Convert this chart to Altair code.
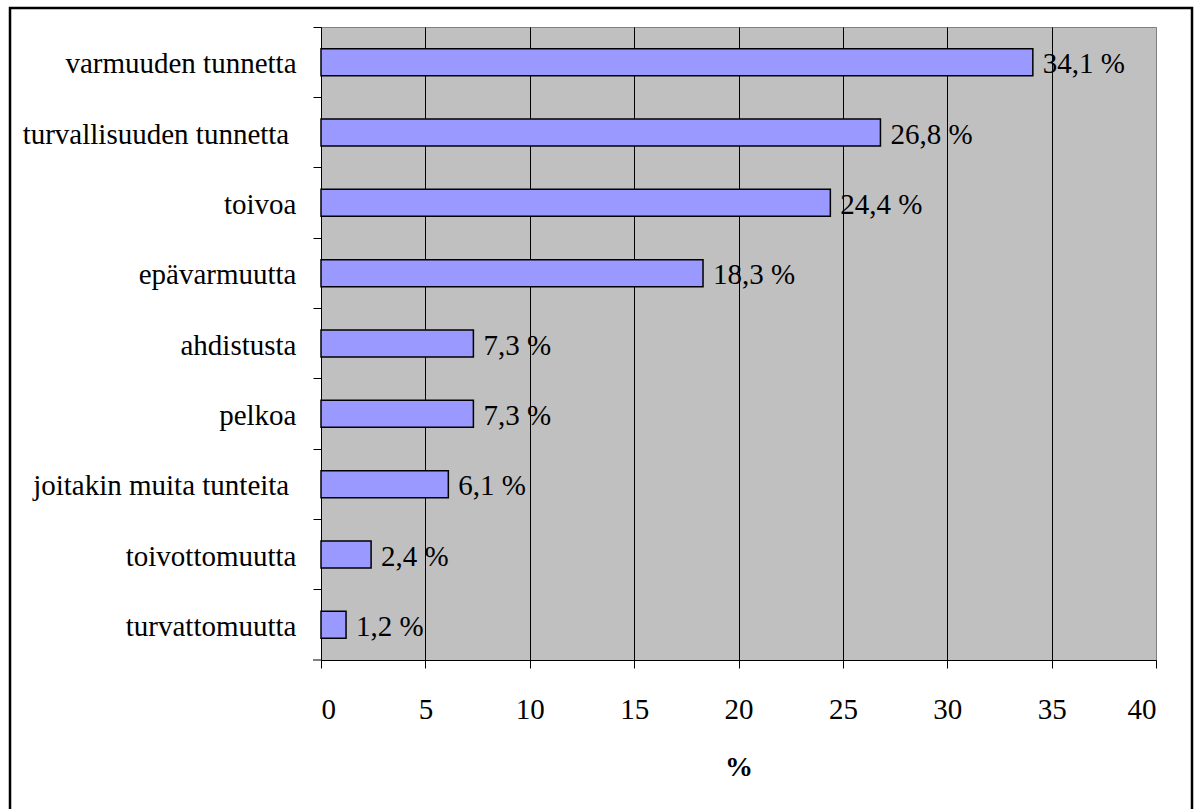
import altair as alt
import pandas as pd

categories = [
    "varmuuden tunnetta",
    "turvallisuuden tunnetta \u200b",
    "toivoa",
    "epävarmuutta",
    "ahdistusta",
    "pelkoa",
    "joitakin muita tunteita \u200b",
    "toivottomuutta",
    "turvattomuutta",
]
values = [34.1, 26.8, 24.4, 18.3, 7.3, 7.3, 6.1, 2.4, 1.2]
x_ticks = [0, 5, 10, 15, 20, 25, 30, 35, 40]

df = pd.DataFrame({"cat": categories, "val": values})

W, H = 835, 633
FONT = "Liberation Serif"
FS = 29

y_enc = alt.Y(
    "cat:N",
    sort=categories,
    title=None,
    scale=alt.Scale(paddingInner=0.616, paddingOuter=0.308),
    axis=alt.Axis(
        domainColor="black",
        domainWidth=1,
        tickColor="black",
        tickSize=8,
        bandPosition=-0.8,
        labelPadding=17,
        labelOffset=2,
        labelFont=FONT,
        labelFontSize=FS,
        labelColor="black",
        labelLimit=400,
        grid=False,
    ),
)

x_enc = alt.X(
    "val:Q",
    title="%",
    scale=alt.Scale(domain=[0, 40], nice=False),
    axis=alt.Axis(
        values=x_ticks,
        domainColor="black",
        domainWidth=1,
        tickColor="black",
        tickSize=8,
        labelPadding=27,
        labelFont=FONT,
        labelFontSize=FS,
        labelColor="black",
        grid=True,
        gridColor={"condition": {"test": "datum.value === 40", "value": "#808080"}, "value": "black"},
        gridWidth=1,
        gridOpacity=1,
        titleFont=FONT,
        titleFontSize=28,
        titleFontWeight="bold",
        titleColor="black",
        titleY=115,
        titleBaseline="alphabetic",
    ),
)

base = alt.Chart(df)

bars = base.mark_bar(color="#9999FF", stroke="black", strokeWidth=1.5).encode(
    x=x_enc, y=y_enc
)

labels = base.transform_calculate(
    lab="replace(format(datum.val, '.1f'), '.', ',') + ' %'"
).mark_text(
    align="left", baseline="middle", dx=10, dy=2, font=FONT, fontSize=FS, color="black"
).encode(
    x="val:Q", y=alt.Y("cat:N", sort=categories), text="lab:N"
)

one = alt.Chart(pd.DataFrame({"a": [0]}))
corner_tick = one.mark_rule(color="black", strokeWidth=1).encode(
    x=alt.value(-8), x2=alt.value(0), y=alt.value(H)
)
border = one.mark_rect(filled=False, stroke="black", strokeWidth=2.5).encode(
    x=alt.value(-311), x2=alt.value(871), y=alt.value(-19), y2=alt.value(900)
)

chart = alt.layer(bars, labels, corner_tick, border).properties(
    width=W,
    height=H,
    autosize=alt.AutoSizeParams(type="none"),
    padding={"left": 321, "top": 27, "right": 41, "bottom": 149},
    background="white",
).configure_view(
    fill="#C0C0C0", stroke="#808080", strokeWidth=1
)

chart.save("out.html", embed_options={"renderer": "svg", "actions": False})
